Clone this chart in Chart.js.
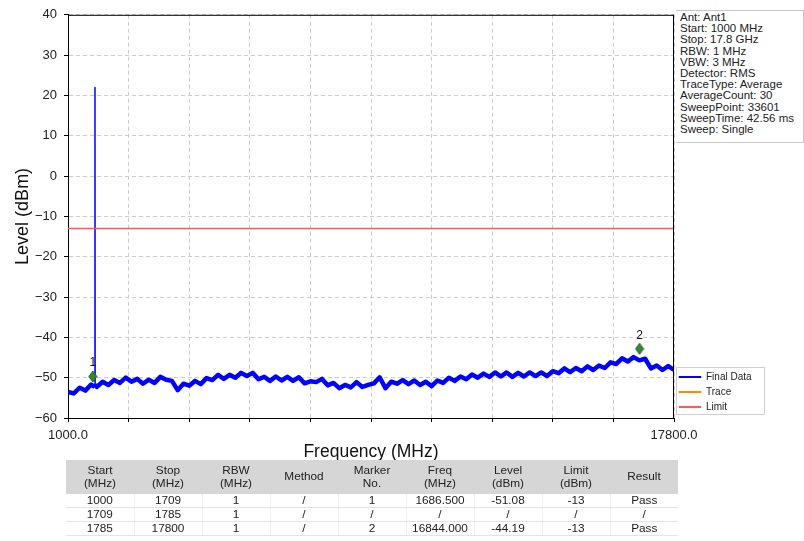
<!DOCTYPE html>
<html>
<head>
<meta charset="utf-8">
<script src="https://cdn.jsdelivr.net/npm/chart.js@4.4.1/dist/chart.umd.min.js"></script>
<style>
  html, body { margin: 0; padding: 0; background: #fff; }
  #wrap { position: relative; width: 804px; height: 541px; font-family: "Liberation Sans", Arial, sans-serif; }
  #c { position: absolute; left: 0; top: 0; }
  #info { position: absolute; left: 676px; top: 10px; width: 123px; height: 130px; border: 1px solid #c8c8c8; border-left: none;
          padding: 1px 0 0 4px; font-size: 11.5px; line-height: 11.2px; color: #222; white-space: nowrap; background: #fff; }
  #tbl { position: absolute; left: 66px; top: 460px; width: 612px; border-collapse: collapse; table-layout: fixed;
         font-size: 11.8px; color: #222; text-align: center; }
  #tbl th { background: #d6d6d6; font-weight: normal; height: 34px; line-height: 13.5px; padding: 0; }
  #tbl td { height: 13px; line-height: 13px; padding: 0; border-bottom: 1px solid #e4e4e4; border-right: 1px solid #f0f0f0; }
  #tbl td:last-child { border-right: none; }
</style>
</head>
<body>
<div id="wrap">
  <canvas id="c" width="804" height="541"></canvas>
  <div id="info"></div>
  <table id="tbl"><thead><tr id="thead"></tr></thead><tbody id="tbody"></tbody></table>
</div>
<script>
// ---------- data ----------
const freqMHz = [1000,1160,1320,1480,1640,1744,1748,1752,1800,1960,2120,2280,2440,2600,2760,2920,3080,3240,3400,3560,3720,3880,4040,4200,4360,4520,4680,4840,5000,5160,5320,5480,5640,5800,5960,6120,6280,6440,6600,6760,6920,7080,7240,7400,7560,7720,7880,8040,8200,8360,8520,8680,8840,9000,9160,9320,9480,9640,9800,9960,10120,10280,10440,10600,10760,10920,11080,11240,11400,11560,11720,11880,12040,12200,12360,12520,12680,12840,13000,13160,13320,13480,13640,13800,13960,14120,14280,14440,14600,14760,14920,15080,15240,15400,15560,15720,15880,16040,16200,16360,16520,16680,16840,17000,17160,17320,17480,17640,17800];
const levelDbm = [-53.5,-53.9,-52.5,-53.2,-51.7,-52.3,22,-51.7,-52.3,-51.0,-51.8,-50.6,-51.3,-50.0,-51.0,-50.3,-51.5,-50.5,-51.3,-49.8,-50.5,-50.8,-53.1,-51.5,-52.0,-50.8,-51.6,-50.1,-50.6,-49.3,-50.3,-49.3,-50.0,-48.8,-49.6,-48.8,-50.4,-49.8,-50.8,-49.7,-50.7,-49.8,-50.8,-49.9,-51.4,-50.9,-51.1,-50.3,-51.9,-51.3,-52.6,-51.8,-52.4,-51.1,-52.3,-51.8,-51.4,-49.9,-52.6,-51.0,-51.5,-50.6,-51.6,-50.7,-51.8,-51.0,-52.1,-50.7,-51.3,-50.0,-50.8,-49.7,-50.4,-49.2,-50.0,-49.0,-49.8,-48.7,-49.7,-48.7,-49.8,-48.8,-49.7,-48.7,-49.6,-48.7,-49.6,-48.4,-48.9,-47.7,-48.6,-47.6,-48.4,-47.2,-48.1,-47.0,-47.6,-46.2,-46.6,-45.2,-46.0,-44.9,-45.7,-45.3,-47.7,-47.0,-48.1,-47.1,-48.1];
const limitFreqMHz = [1000, 17800];
const limitDbm = [-13, -13];
const markerFreqMHz = [1686.5, 16844];
const markerDbm = [-51.08, -44.19];
const markerLabels = ['1', '2'];
const xTickLabels = ['1000.0','','','','','','','','','','17800.0'];
const infoLines = ['Ant: Ant1','Start: 1000 MHz','Stop: 17.8 GHz','RBW: 1 MHz','VBW: 3 MHz','Detector: RMS','TraceType: Average','AverageCount: 30','SweepPoint: 33601','SweepTime: 42.56 ms','Sweep: Single'];
const tableHeaders = ['Start<br>(MHz)','Stop<br>(MHz)','RBW<br>(MHz)','Method','Marker<br>No.','Freq<br>(MHz)','Level<br>(dBm)','Limit<br>(dBm)','Result'];
const tableRows = [
  ['1000','1709','1','/','1','1686.500','-51.08','-13','Pass'],
  ['1709','1785','1','/','/','/','/','/','/'],
  ['1785','17800','1','/','2','16844.000','-44.19','-13','Pass']
];

// ---------- HTML parts ----------
document.getElementById('info').innerHTML = infoLines.map(s => '<div>' + s + '</div>').join('');
document.getElementById('thead').innerHTML = tableHeaders.map(h => '<th>' + h + '</th>').join('');
document.getElementById('tbody').innerHTML = tableRows.map(r => '<tr>' + r.map(c => '<td>' + c + '</td>').join('') + '</tr>').join('');

// ---------- chart ----------
const FONT = "'Liberation Sans', Arial, sans-serif";
function diamond() {
  const c = document.createElement('canvas');
  c.width = 10; c.height = 24;
  const g = c.getContext('2d');
  g.fillStyle = '#2e8b2e'; g.strokeStyle = '#1a5c1a'; g.lineWidth = 1;
  g.beginPath(); g.moveTo(5, 1); g.lineTo(9, 6.5); g.lineTo(5, 12); g.lineTo(1, 6.5); g.closePath();
  g.fill(); g.stroke();
  return c;
}

const framePlugin = {
  id: 'frame',
  afterLayout(chart) {
    const lg = chart.legend;
    if (lg) { lg.bottom = chart.chartArea.bottom - 1; }
  },
  afterDatasetsDraw(chart) {
    const {ctx, chartArea: a} = chart;
    ctx.save();
    ctx.strokeStyle = '#000'; ctx.lineWidth = 1;
    ctx.beginPath();
    ctx.moveTo(a.left, a.top + 0.5); ctx.lineTo(a.right, a.top + 0.5);
    ctx.moveTo(a.right - 0.5, a.top); ctx.lineTo(a.right - 0.5, a.bottom);
    ctx.stroke();
    const meta = chart.getDatasetMeta(3);
    ctx.fillStyle = '#111'; ctx.font = '12px ' + FONT; ctx.textAlign = 'center'; ctx.textBaseline = 'middle';
    meta.data.forEach((p, i) => ctx.fillText(markerLabels[i], p.x, p.y - 19));
    ctx.restore();
  },
  afterDraw(chart) {
    const ctx = chart.ctx, a = chart.chartArea;
    ctx.save();
    ctx.strokeStyle = '#d0d0d0'; ctx.lineWidth = 1;
    ctx.strokeRect(a.right + 2.5, a.bottom - 50.5, 88, 47);
    ctx.restore();
  }
};

new Chart(document.getElementById('c'), {
  type: 'line',
  data: {
    datasets: [
      {
        label: 'Final Data',
        data: freqMHz.map((f, i) => ({x: f, y: levelDbm[i]})),
        borderColor: '#0000ff', backgroundColor: '#0000ff',
        borderWidth: 4.5, pointRadius: 0, tension: 0, borderJoinStyle: 'round',
        segment: { borderWidth: ctx => (ctx.p0.parsed.y > -40 || ctx.p1.parsed.y > -40) ? 1.5 : 4.5 },
        order: 2
      },
      {
        label: 'Trace', data: [], borderColor: '#ff8c00', backgroundColor: '#ff8c00', borderWidth: 1.5, pointRadius: 0, order: 3
      },
      {
        label: 'Limit',
        data: limitFreqMHz.map((f, i) => ({x: f, y: limitDbm[i]})),
        borderColor: '#ff5a5a', backgroundColor: '#ff5a5a', borderWidth: 1.5, pointRadius: 0, order: 1
      },
      {
        label: 'Markers',
        data: markerFreqMHz.map((f, i) => ({x: f, y: markerDbm[i]})),
        showLine: false, pointStyle: diamond(), pointRadius: 5, pointHoverRadius: 5, order: 0
      }
    ]
  },
  options: {
    responsive: false, animation: false, devicePixelRatio: 1,
    layout: { padding: { top: 14, left: 0, right: 43, bottom: 78 } },
    plugins: {
      tooltip: { enabled: false },
      legend: {
        position: 'right', align: 'end', maxWidth: 87,
        labels: {
          boxWidth: 22, boxHeight: 1, padding: 5, color: '#222',
          font: { size: 10, family: FONT },
          generateLabels: chart => Chart.defaults.plugins.legend.labels.generateLabels(chart)
            .map(l => Object.assign(l, { lineWidth: 1 })),
          filter: item => item.text !== 'Markers',
          sort: (a, b) => a.datasetIndex - b.datasetIndex
        }
      }
    },
    scales: {
      x: {
        type: 'linear', min: 1000, max: 17800,
        afterFit: s => { s.height = 45; },
        ticks: { stepSize: 1680, autoSkip: false, maxRotation: 0, padding: 6, color: '#222',
                 font: { size: 13, family: FONT },
                 callback: (v, i) => xTickLabels[i] },
        grid: { color: '#cccccc', lineWidth: 1, tickLength: 4, tickColor: '#000' },
        border: { color: '#000', width: 1, dash: [4, 3] },
        title: { display: true, text: 'Frequency (MHz)', color: '#111', font: { size: 17.5, family: FONT }, padding: { top: 0, bottom: 0 } }
      },
      y: {
        min: -60, max: 40,
        afterFit: s => { s.width = 68; },
        ticks: { stepSize: 10, padding: 7, color: '#222', font: { size: 13, family: FONT },
                 callback: v => String(v).replace('-', '\u2212') },
        grid: { color: '#cccccc', lineWidth: 1, tickLength: 4, tickColor: '#000' },
        border: { color: '#000', width: 1, dash: [4, 3] },
        title: { display: true, text: 'Level (dBm)', color: '#111', font: { size: 18, family: FONT }, padding: { top: 12, bottom: 0 } }
      }
    }
  },
  plugins: [framePlugin]
});
</script>
</body>
</html>
